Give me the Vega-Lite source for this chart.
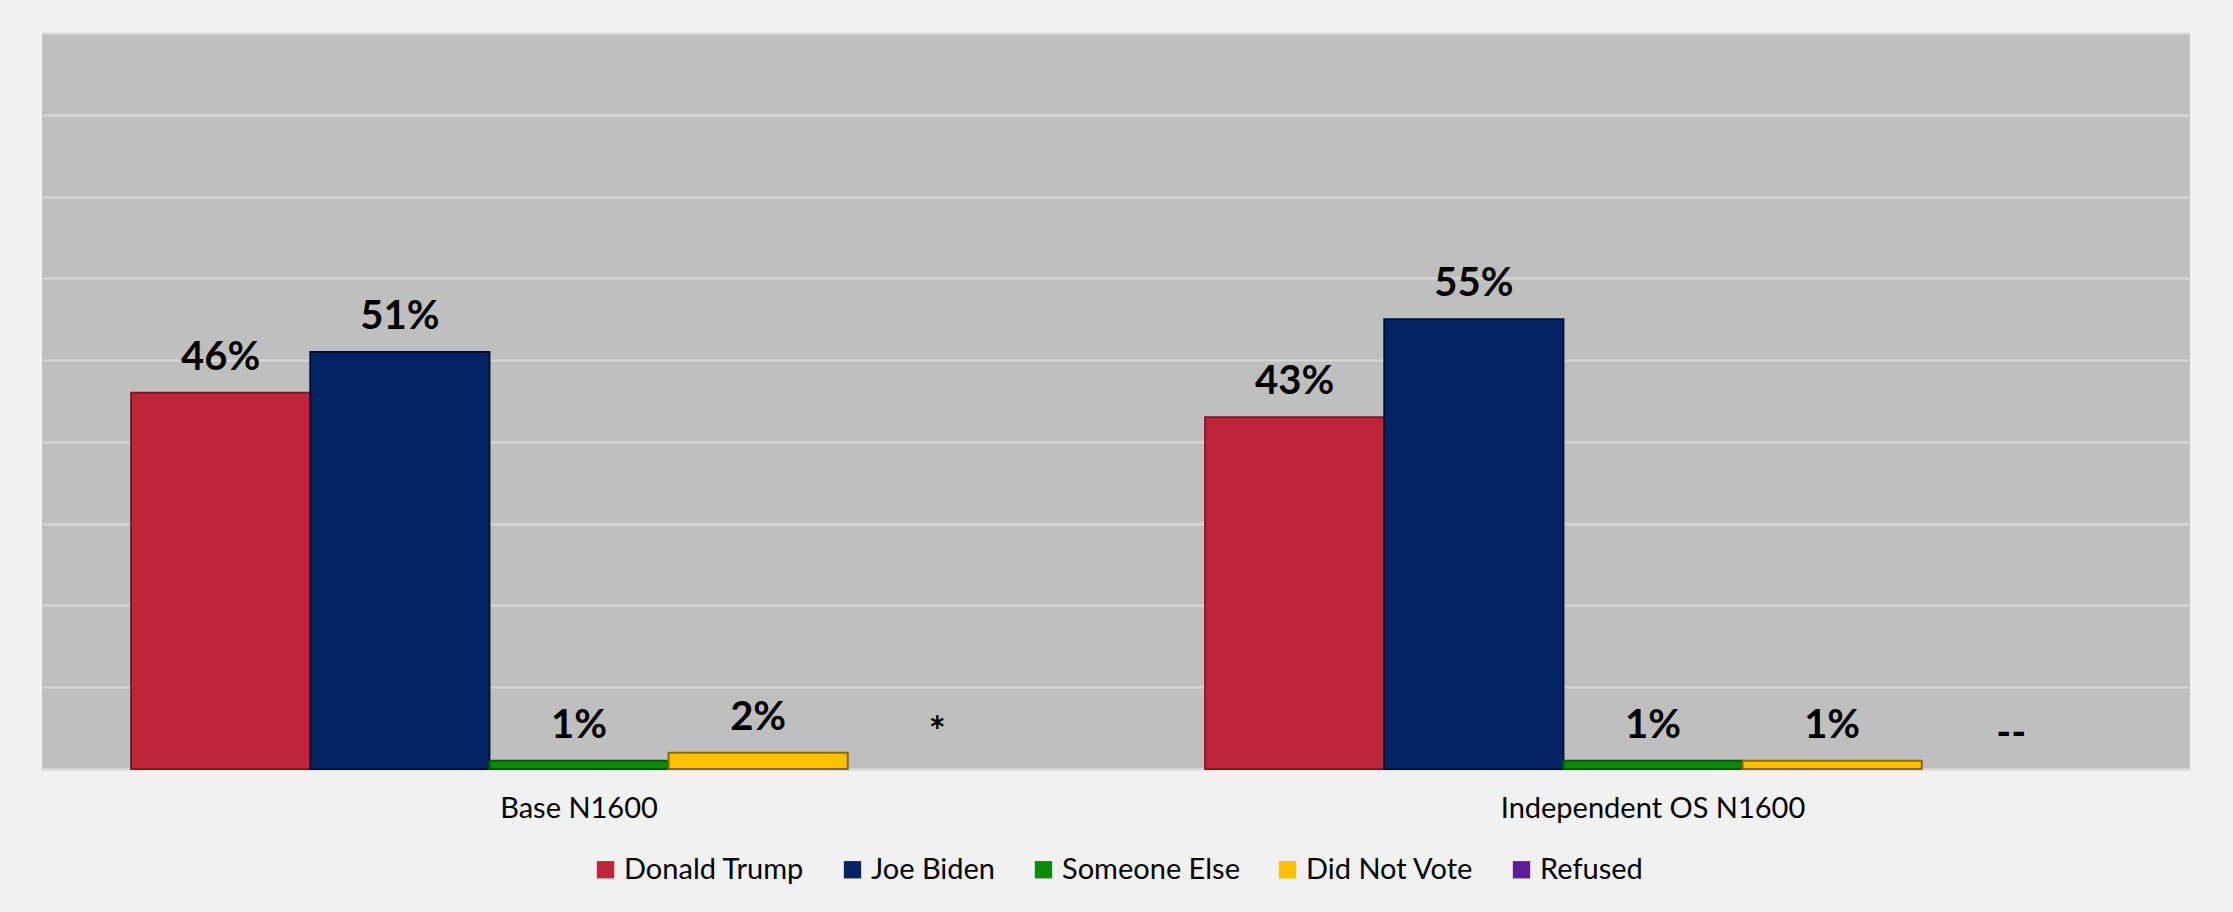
{
  "$schema": "https://vega.github.io/schema/vega-lite/v6.json",
  "autosize": {"type": "none"},
  "width": 2148,
  "height": 736,
  "padding": {"left": 42, "top": 33, "right": 43, "bottom": 143},
  "background": "#f1f1f1",
  "config": {
    "view": {"fill": "#bfbfbf", "stroke": null},
    "font": "Lato"
  },
  "data": {
    "values": [
      {"group": "Base N1600", "category": "Donald Trump", "value": 46, "label": "46%"},
      {"group": "Base N1600", "category": "Joe Biden", "value": 51, "label": "51%"},
      {"group": "Base N1600", "category": "Someone Else", "value": 1, "label": "1%"},
      {"group": "Base N1600", "category": "Did Not Vote", "value": 2, "label": "2%"},
      {"group": "Base N1600", "category": "Refused", "value": 0, "label": "*"},
      {"group": "Independent OS N1600", "category": "Donald Trump", "value": 43, "label": "43%"},
      {"group": "Independent OS N1600", "category": "Joe Biden", "value": 55, "label": "55%"},
      {"group": "Independent OS N1600", "category": "Someone Else", "value": 1, "label": "1%"},
      {"group": "Independent OS N1600", "category": "Did Not Vote", "value": 1, "label": "1%"},
      {"group": "Independent OS N1600", "category": "Refused", "value": 0, "label": "--"}
    ]
  },
  "encoding": {
    "x": {
      "field": "group",
      "type": "nominal",
      "sort": null,
      "scale": {"paddingInner": 0.166, "paddingOuter": 0.083},
      "axis": {
        "title": null,
        "labelAngle": 0,
        "labelFontSize": 29,
        "labelColor": "#000000",
        "labelPadding": 25,
        "labelLimit": 0,
        "ticks": false,
        "domainColor": "#d9d9d9",
        "domainWidth": 2,
        "grid": false
      }
    },
    "xOffset": {
      "field": "category",
      "type": "nominal",
      "sort": ["Donald Trump", "Joe Biden", "Someone Else", "Did Not Vote", "Refused"],
      "scale": {"paddingInner": 0, "paddingOuter": 0}
    },
    "y": {
      "field": "value",
      "type": "quantitative",
      "scale": {"domain": [0, 90], "nice": false},
      "axis": {
        "title": null,
        "labels": false,
        "ticks": false,
        "domain": false,
        "grid": true,
        "gridColor": "#d9d9d9",
        "gridWidth": 2,
        "values": [0, 10, 20, 30, 40, 50, 60, 70, 80, 90]
      }
    }
  },
  "layer": [
    {
      "mark": {"type": "bar", "strokeWidth": 2},
      "encoding": {
        "color": {
          "field": "category",
          "type": "nominal",
          "sort": ["Donald Trump", "Joe Biden", "Someone Else", "Did Not Vote", "Refused"],
          "scale": {
            "domain": ["Donald Trump", "Joe Biden", "Someone Else", "Did Not Vote", "Refused"],
            "range": ["#be253a", "#042364", "#0a8a0a", "#ffc000", "#5b1f9a"]
          },
          "legend": {
            "title": null,
            "orient": "none",
            "direction": "horizontal",
            "legendX": 549,
            "legendY": 822,
            "symbolType": "square",
            "symbolSize": 300,
            "symbolStrokeWidth": 0,
            "labelFontSize": 29,
            "labelColor": "#000000",
            "labelOffset": 4,
            "labelLimit": 0,
            "columnPadding": 33,
            "padding": 0
          }
        },
        "stroke": {
          "field": "category",
          "type": "nominal",
          "scale": {
            "domain": ["Donald Trump", "Joe Biden", "Someone Else", "Did Not Vote", "Refused"],
            "range": ["#7d1826", "#01102e", "#045a04", "#8a6a00", "#3a1266"]
          },
          "legend": null
        },
        "strokeOpacity": {
          "condition": {"test": "datum.value <= 0", "value": 0},
          "value": 1
        }
      }
    },
    {
      "mark": {"type": "text", "baseline": "alphabetic", "dy": -23, "fontSize": 40, "fontWeight": "bold", "color": "#000000"},
      "encoding": {
        "text": {"field": "label", "type": "nominal"}
      }
    }
  ]
}
